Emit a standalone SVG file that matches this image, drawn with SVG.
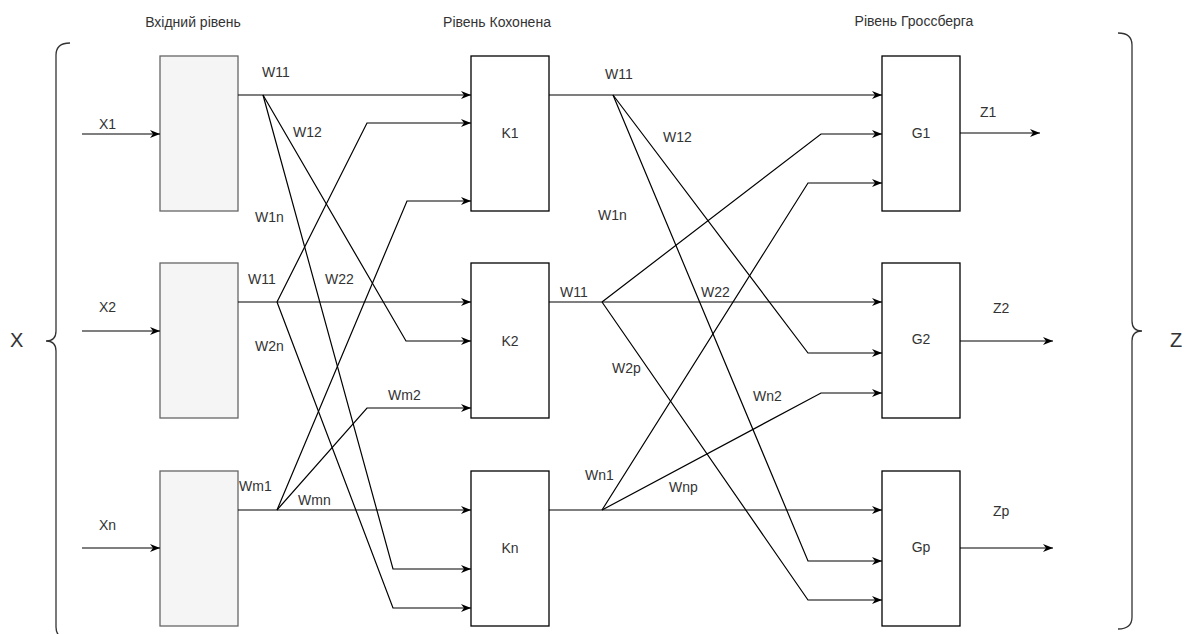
<svg xmlns="http://www.w3.org/2000/svg" width="1184" height="634" viewBox="0 0 1184 634">
<defs>
<marker id="arr" markerUnits="userSpaceOnUse" markerWidth="12" markerHeight="10" refX="10" refY="4" orient="auto">
<path d="M0,0 L10,4 L0,8 L3,4 Z" fill="#000"/>
</marker>
<style>
text{font-family:"Liberation Sans",Arial,sans-serif;font-size:14px;fill:#333}
.big{font-size:20px}
.mid{text-anchor:middle}
.in{fill:#f5f5f5;stroke:#666;stroke-width:1.3}
.nd{fill:#fff;stroke:#000;stroke-width:1.3}
.c{fill:none;stroke:#000;stroke-width:1.2;marker-end:url(#arr)}
.br{fill:none;stroke:#333;stroke-width:1.3}
</style>
</defs>
<rect width="1184" height="634" fill="#fff"/>
<g id="titles">
<text class="mid" x="193" y="27">Вхідний рівень</text>
<text class="mid" x="497" y="27">Рівень Кохонена</text>
<text class="mid" x="914" y="26">Рівень Гроссберга</text>
</g>
<g id="brace-x">
<path class="br" d="M70,43 Q56,43 56,55 L56,331 Q56,341 46,341 Q56,341 56,351 L56,627 Q56,639 70,639"/>
<text class="big" x="10" y="347">X</text>
</g>
<g id="brace-z">
<path class="br" d="M1118,33 Q1132,33 1132,45 L1132,321 Q1132,331 1142,331 Q1132,331 1132,341 L1132,617 Q1132,629 1118,629"/>
<text class="big" x="1170" y="347">Z</text>
</g>
<g id="in1"><rect class="in" x="160" y="56" width="78" height="155"/></g>
<g id="in2"><rect class="in" x="160" y="263" width="78" height="155"/></g>
<g id="in3"><rect class="in" x="160" y="471" width="78" height="155"/></g>
<g id="K1"><rect class="nd" x="471" y="56" width="78" height="155"/><text class="mid" x="510" y="138">K1</text></g>
<g id="K2"><rect class="nd" x="471" y="263" width="78" height="155"/><text class="mid" x="510" y="346">K2</text></g>
<g id="Kn"><rect class="nd" x="471" y="471" width="78" height="155"/><text class="mid" x="510" y="553">Kn</text></g>
<g id="G1"><rect class="nd" x="882" y="56" width="78" height="155"/><text class="mid" x="921" y="138">G1</text></g>
<g id="G2"><rect class="nd" x="882" y="263" width="78" height="155"/><text class="mid" x="921" y="344">G2</text></g>
<g id="Gp"><rect class="nd" x="882" y="471" width="78" height="155"/><text class="mid" x="921" y="552">Gp</text></g>
<g id="connectors">
<polyline class="c" points="82,134 160,134"/>
<polyline class="c" points="82,331 160,331"/>
<polyline class="c" points="82,548 160,548"/>
<polyline class="c" points="238,95 471,95"/>
<polyline class="c" points="263,95 406,341 471,341"/>
<polyline class="c" points="263,95 393,569 471,569"/>
<polyline class="c" points="238,302 471,302"/>
<polyline class="c" points="277,302 367,123 471,123"/>
<polyline class="c" points="277,302 393,608 471,608"/>
<polyline class="c" points="238,510 471,510"/>
<polyline class="c" points="277,510 367,408 471,408"/>
<polyline class="c" points="277,510 407,201 471,201"/>
<polyline class="c" points="549,95 882,95"/>
<polyline class="c" points="613,95 808,353 882,353"/>
<polyline class="c" points="613,95 808,561 882,561"/>
<polyline class="c" points="549,302 882,302"/>
<polyline class="c" points="602,302 821,134 882,134"/>
<polyline class="c" points="602,302 808,600 882,600"/>
<polyline class="c" points="549,510 882,510"/>
<polyline class="c" points="602,510 808,183 882,183"/>
<polyline class="c" points="602,510 821,393 882,393"/>
<polyline class="c" points="960,133 1040,133"/>
<polyline class="c" points="960,341 1053,341"/>
<polyline class="c" points="960,548 1053,548"/>
</g>
<g id="labels">
<text x="99" y="129">X1</text>
<text x="99" y="312">X2</text>
<text x="99" y="530">Xn</text>
<text x="262" y="77">W11</text>
<text x="293" y="137">W12</text>
<text x="255" y="222">W1n</text>
<text x="248" y="284">W11</text>
<text x="325" y="284">W22</text>
<text x="255" y="351">W2n</text>
<text x="388" y="400">Wm2</text>
<text x="239" y="491">Wm1</text>
<text x="298" y="505">Wmn</text>
<text x="605" y="79">W11</text>
<text x="663" y="142">W12</text>
<text x="598" y="220">W1n</text>
<text x="560" y="297">W11</text>
<text x="701" y="297">W22</text>
<text x="612" y="373">W2p</text>
<text x="753" y="401">Wn2</text>
<text x="585" y="480">Wn1</text>
<text x="669" y="492">Wnp</text>
<text x="980" y="117">Z1</text>
<text x="993" y="313">Z2</text>
<text x="993" y="516">Zp</text>
</g>
</svg>
